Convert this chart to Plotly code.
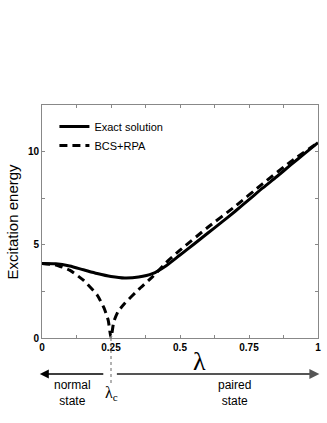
import plotly.graph_objects as go

# coupling constant lambda and excitation energies
lam_exact = [0, 0.05, 0.1, 0.15, 0.2, 0.25, 0.3, 0.35, 0.4, 0.45, 0.5,
             0.55, 0.6, 0.65, 0.7, 0.75, 0.8, 0.85, 0.9, 0.95, 1.0]
e_exact = [4.0, 3.98, 3.86, 3.66, 3.46, 3.3, 3.22, 3.27, 3.45, 3.88, 4.45,
           5.03, 5.62, 6.2, 6.8, 7.42, 8.05, 8.65, 9.27, 9.88, 10.48]

lam_bcs = [0, 0.05, 0.1, 0.15, 0.2, 0.225, 0.24, 0.25, 0.26, 0.275, 0.3,
           0.35, 0.4, 0.45, 0.5, 0.6, 0.7, 0.8, 0.9, 1.0]
e_bcs = [4.0, 3.92, 3.64, 3.1, 2.3, 1.6, 0.95, 0.0, 0.87, 1.4, 1.86,
         2.6, 3.28, 4.05, 4.71, 5.93, 7.07, 8.28, 9.45, 10.48]

x_ticks = [0, 0.25, 0.5, 0.75, 1]
x_labels = ["0", "0.25", "0.5", "0.75", "1"]
y_ticks = [0, 5, 10]

lam_c = 0.25
arrow_y = -0.155   # paper units, below the x axis

fig = go.Figure()
fig.add_trace(go.Scatter(x=lam_exact, y=e_exact, mode="lines", name="Exact solution",
                         line=dict(color="black", width=3, shape="spline", smoothing=0.8)))
fig.add_trace(go.Scatter(x=lam_bcs, y=e_bcs, mode="lines", name="BCS+RPA",
                         line=dict(color="black", width=3, dash="8px,5px",
                                   shape="spline", smoothing=0.5)))

axis_common = dict(showgrid=False, zeroline=False, showline=True, linecolor="#888",
                   linewidth=1, mirror="allticks", ticks="inside", ticklen=3,
                   tickcolor="#888",
                   tickfont=dict(family="Liberation Sans", size=10, color="black", weight="bold"))

fig.update_xaxes(range=[0, 1], tickvals=x_ticks, ticktext=x_labels,
                 minor=dict(dtick=0.125, ticks="inside", ticklen=3, tickcolor="#888"),
                 **axis_common)
fig.update_yaxes(range=[0, 12.5], tickvals=y_ticks,
                 minor=dict(dtick=2.5, ticks="inside", ticklen=3, tickcolor="#888"),
                 **axis_common)

# regime arrows below the axis (tail offset in pixels from the head)
fig.add_annotation(x=-0.008, y=arrow_y, xref="paper", yref="paper",
                   ax=65, ay=0, axref="pixel", ayref="pixel", text="", showarrow=True,
                   arrowhead=2, arrowsize=1.2, arrowwidth=1.5, arrowcolor="black")
fig.add_annotation(x=1.005, y=arrow_y, xref="paper", yref="paper",
                   ax=-204, ay=0, axref="pixel", ayref="pixel", text="", showarrow=True,
                   arrowhead=2, arrowsize=1, arrowwidth=2, arrowcolor="#555")
fig.add_shape(type="line", x0=lam_c, x1=lam_c, y0=0, y1=-0.2, xref="paper", yref="paper",
              line=dict(color="#666", width=1, dash="dot"))

txt_font = dict(family="Liberation Sans", size=12, color="black")
fig.add_annotation(x=0.11, y=-0.237, xref="paper", yref="paper", text="normal<br>state",
                   showarrow=False, font=txt_font, xanchor="center", yanchor="middle")
fig.add_annotation(x=0.696, y=-0.237, xref="paper", yref="paper", text="paired<br>state",
                   showarrow=False, font=txt_font, xanchor="center", yanchor="middle")
fig.add_annotation(x=lam_c, y=-0.237, xref="paper", yref="paper", text="λ<sub>c</sub>",
                   showarrow=False, xanchor="center", yanchor="middle",
                   font=dict(family="Liberation Serif", size=16, color="black"))
fig.add_annotation(x=0.57, y=-0.1, xref="paper", yref="paper", text="λ",
                   showarrow=False, xanchor="center", yanchor="middle",
                   font=dict(family="Liberation Serif", size=26, color="black"))
fig.add_annotation(x=0, y=0.5, xref="paper", yref="paper", xshift=-30, textangle=-90,
                   text="Excitation energy", showarrow=False, xanchor="center",
                   yanchor="middle",
                   font=dict(family="Liberation Sans", size=15, color="black"))

fig.update_layout(
    width=327, height=423,
    margin=dict(l=42, r=6, t=105, b=85),
    paper_bgcolor="white", plot_bgcolor="white",
    showlegend=True,
    legend=dict(x=0.045, y=0.97, xanchor="left", yanchor="top", bgcolor="rgba(0,0,0,0)",
                font=dict(family="Liberation Sans", size=11, color="black"),
                tracegroupgap=0, itemwidth=30),
)

fig.write_html("out.html", config={"displayModeBar": False},
               post_script="document.body.style.margin='0';")
